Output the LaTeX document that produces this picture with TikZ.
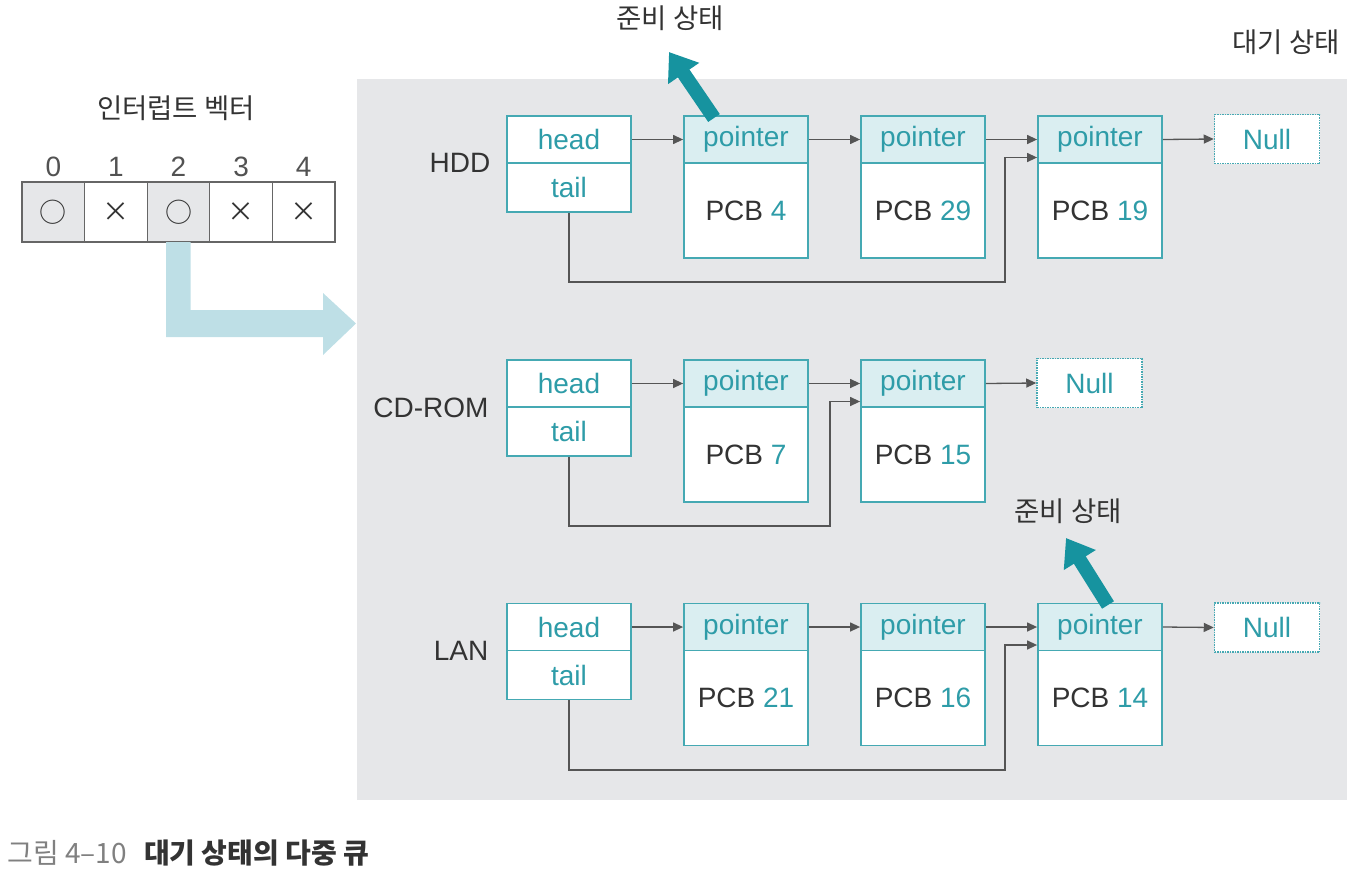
\documentclass[tikz,border=0pt]{standalone}
\usepackage{fontspec}
\setmainfont{Liberation Sans}
\newfontfamily\kr{Noto Sans CJK KR}
\usetikzlibrary{arrows.meta,calc}
\definecolor{bggray}{HTML}{E6E7E9}
\definecolor{tealb}{HTML}{45A9B3}
\definecolor{hdrfill}{HTML}{DAEEF1}
\definecolor{tealt}{HTML}{2E9CA8}
\definecolor{tealarrow}{HTML}{16939F}
\definecolor{lblue}{HTML}{BEDFE6}
\definecolor{conngray}{HTML}{555555}
\definecolor{darktext}{HTML}{333333}
\tikzset{
  txt/.style={font=\fontsize{28}{32}\selectfont},
  krtxt/.style={font=\kr\fontsize{27.5}{32}\selectfont, text=darktext},
  hbox/.style={draw=tealb, line width=1.8pt, fill=white, minimum width=124pt, inner sep=0pt, text=tealt, txt},
  phdr/.style={draw=tealb, line width=1.8pt, fill=hdrfill, minimum width=124pt, minimum height=47pt, inner sep=0pt, text=tealt, txt},
  pbody/.style={draw=tealb, line width=1.8pt, fill=white, minimum width=124pt, minimum height=95pt, inner sep=0pt, text=darktext, txt},
  nullbox/.style={draw=tealb, line width=1.5pt, densely dotted, fill=white, minimum width=105pt, minimum height=49pt, inner sep=0pt, text=tealt, txt},
  conn/.style={draw=conngray, line width=1.3pt, -{Triangle[width=9pt,length=10pt]}},
  ready/.style={draw=tealarrow, line width=14pt, -{Triangle[width=36pt,length=26pt]}},
  vcell/.style={draw=gray!80!black, line width=1.3pt, minimum width=62.6pt, minimum height=60pt, inner sep=0pt},
  lab/.style={txt, text=darktext},
}
\begin{document}
\begin{tikzpicture}[x=1pt,y=-1pt]
\useasboundingbox (0,0) rectangle (1355,873);
% background panel
\fill[bggray] (357,79) rectangle (1347,800);
\node[krtxt] (waitlbl) at (1286,42) {대기 상태};

% interrupt vector
\node[krtxt] (ivlbl) at (176,108) {인터럽트 벡터};
\foreach \i/\s/\f in {0/○/bggray,1/×/white,2/○/bggray,3/×/white,4/×/white}{
  \node[txt, text=darktext!85] (idx\i) at (53.3+62.6*\i,167) {\i};
  \node[vcell, fill=\f, font=\kr\fontsize{27}{30}\selectfont, text=darktext] (v\i) at (53.3+62.6*\i,212) {\s};
}
% light blue L arrow
\fill[lblue] (166,242) -- (190.5,242) -- (190.5,310) -- (323,310) -- (323,293) -- (356,323.5) -- (323,355) -- (323,337) -- (166,337) -- cycle;

% ---------- HDD ----------
\node[lab] (hddl) at (460,163) {HDD};
\node[hbox, minimum height=47pt] (hh1) at (569,139.5) {head};
\node[hbox, minimum height=49pt] (th1) at (569,187.5) {tail};
\node[pbody] (p11b) at (746,210.5) {PCB \textcolor{tealt}{4}};
\node[phdr] (p11h) at (746,139.5) {pointer};
\node[pbody] (p12b) at (923,210.5) {PCB \textcolor{tealt}{29}};
\node[phdr] (p12h) at (923,139.5) {pointer};
\node[pbody] (p13b) at (1100,210.5) {PCB \textcolor{tealt}{19}};
\node[phdr] (p13h) at (1100,139.5) {pointer};
\node[nullbox] (n1) at (1267,139) {Null};
\coordinate (c1) at (1005,282);
\draw[conn] (hh1.east) -- (p11h.west);
\draw[conn] (p11h.east) -- (p12h.west);
\draw[conn] (p12h.east) -- (p13h.west);
\draw[conn] (p13h.east) -- (n1.west);
\draw[conn] (th1.south) |- (c1) |- ([yshift=-18pt]p13h.west);

% ---------- CD-ROM ----------
\node[lab] (cdl) at (431,408) {CD-ROM};
\node[hbox, minimum height=47pt] (hh2) at (569,383.5) {head};
\node[hbox, minimum height=49pt] (th2) at (569,431.5) {tail};
\node[pbody] (p21b) at (746,454.5) {PCB \textcolor{tealt}{7}};
\node[phdr] (p21h) at (746,383.5) {pointer};
\node[pbody] (p22b) at (923,454.5) {PCB \textcolor{tealt}{15}};
\node[phdr] (p22h) at (923,383.5) {pointer};
\node[nullbox] (n2) at (1089.5,383) {Null};
\coordinate (c2) at (830,526);
\draw[conn] (hh2.east) -- (p21h.west);
\draw[conn] (p21h.east) -- (p22h.west);
\draw[conn] (p22h.east) -- (n2.west);
\draw[conn] (th2.south) |- (c2) |- ([yshift=-18pt]p22h.west);

% ---------- LAN ----------
\node[lab] (lanl) at (461,651) {LAN};
\node[hbox, minimum height=47pt] (hh3) at (569,627) {head};
\node[hbox, minimum height=49pt] (th3) at (569,675) {tail};
\node[pbody] (p31b) at (746,698) {PCB \textcolor{tealt}{21}};
\node[phdr] (p31h) at (746,627) {pointer};
\node[pbody] (p32b) at (923,698) {PCB \textcolor{tealt}{16}};
\node[phdr] (p32h) at (923,627) {pointer};
\node[pbody] (p33b) at (1100,698) {PCB \textcolor{tealt}{14}};
\node[phdr] (p33h) at (1100,627) {pointer};
\node[nullbox] (n3) at (1267,627.5) {Null};
\coordinate (c3) at (1005,770);
\draw[conn] (hh3.east) -- (p31h.west);
\draw[conn] (p31h.east) -- (p32h.west);
\draw[conn] (p32h.east) -- (p33h.west);
\draw[conn] (p33h.east) -- (n3.west);
\draw[conn] (th3.south) |- (c3) |- ([yshift=-18pt]p33h.west);

% ---------- ready arrows ----------
\node[krtxt] (r1) at (670,18) {준비 상태};
\coordinate (r1s) at (714,118);
\draw[ready] (r1s) -- (669,52);
\node[krtxt] (r2) at (1068,511) {준비 상태};
\coordinate (r2s) at (1108,605);
\draw[ready] (r2s) -- (1066,538);

% caption
\node[anchor=west, font=\kr\fontsize{28}{30}\selectfont, text=gray] (cap1) at (4,853) {그림 4–10};
\node[anchor=west, font=\kr\bfseries\fontsize{28}{30}\selectfont, text=darktext, xshift=10pt] (cap2) at (cap1.east) {대기 상태의 다중 큐};
\end{tikzpicture}
\end{document}
